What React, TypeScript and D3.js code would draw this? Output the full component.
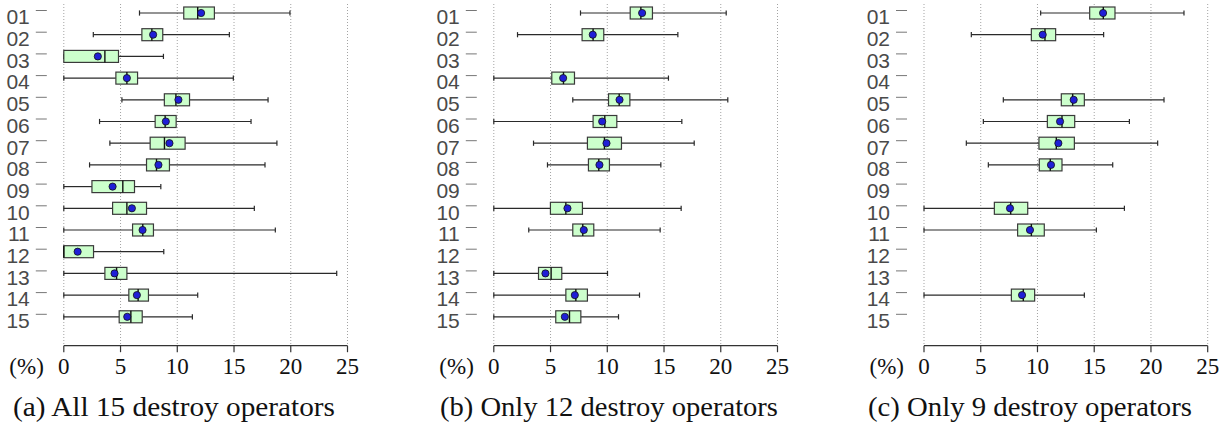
import React from "react";
import * as d3 from "d3";

// operator ids
const operators = ["01","02","03","04","05","06","07","08","09","10","11","12","13","14","15"];
const xTicks = [0, 5, 10, 15, 20, 25];

// [operator, whiskerLow, q1, median, q3, whiskerHigh, mean]
const statsAll: [string, number, number, number, number, number, number][] = [
  ["01", 6.67, 10.57, 11.8, 13.27, 19.93, 12.1],
  ["02", 2.6, 6.88, 7.76, 8.72, 14.59, 7.87],
  ["03", 0, 0, 3.62, 4.82, 8.78, 3.0],
  ["04", 0, 4.59, 5.56, 6.5, 14.94, 5.56],
  ["05", 5.12, 8.86, 9.88, 11.08, 18.0, 10.1],
  ["06", 3.15, 8.05, 8.93, 9.9, 16.5, 8.99],
  ["07", 4.06, 7.61, 8.87, 10.69, 18.78, 9.31],
  ["08", 2.27, 7.29, 8.17, 9.31, 17.73, 8.34],
  ["09", 0, 2.48, 5.2, 6.23, 8.55, 4.3],
  ["10", 0, 4.3, 5.56, 7.29, 16.79, 6.0],
  ["11", 0, 6.06, 6.96, 7.9, 18.64, 6.94],
  ["12", 0, 0, 0, 2.62, 8.81, 1.22],
  ["13", 0, 3.62, 4.65, 5.56, 24.05, 4.47],
  ["14", 0, 5.73, 6.55, 7.46, 11.8, 6.44],
  ["15", 0, 4.88, 5.91, 6.91, 11.33, 5.59],
];

const statsTwelve: [string, number, number, number, number, number, number][] = [
  ["01", 7.64, 12.02, 12.96, 13.98, 20.48, 13.07],
  ["02", 2.09, 7.78, 8.75, 9.69, 16.22, 8.72],
  ["04", 0, 5.11, 6.14, 7.11, 15.39, 6.11],
  ["05", 6.96, 10.11, 11.05, 11.99, 20.62, 11.08],
  ["06", 0, 8.75, 9.78, 10.84, 16.57, 9.55],
  ["07", 3.5, 8.25, 9.75, 11.25, 17.66, 9.93],
  ["08", 4.73, 8.34, 9.25, 10.19, 14.72, 9.31],
  ["10", 0, 4.99, 6.35, 7.81, 16.51, 6.49],
  ["11", 3.08, 6.96, 7.84, 8.81, 14.66, 7.93],
  ["13", 0, 3.94, 5.05, 5.99, 10.02, 4.55],
  ["14", 0, 6.35, 7.23, 8.25, 12.84, 7.14],
  ["15", 0, 5.46, 6.67, 7.67, 10.99, 6.26],
];

const statsNine: [string, number, number, number, number, number, number][] = [
  ["01", 10.28, 14.6, 15.8, 16.83, 22.91, 15.78],
  ["02", 4.17, 9.46, 10.66, 11.6, 15.83, 10.46],
  ["05", 6.99, 12.1, 13.1, 14.13, 21.15, 13.19],
  ["06", 5.23, 10.87, 12.16, 13.28, 18.1, 11.99],
  ["07", 3.73, 10.13, 11.66, 13.25, 20.59, 11.84],
  ["08", 5.67, 10.16, 11.13, 12.16, 16.63, 11.19],
  ["10", 0, 6.2, 7.64, 9.14, 17.66, 7.58],
  ["11", 0, 8.25, 9.46, 10.6, 15.19, 9.34],
  ["14", 0, 7.7, 8.75, 9.75, 14.13, 8.64],
];

const captions = [
  "(a) All 15 destroy operators",
  "(b) Only 12 destroy operators",
  "(c) Only 9 destroy operators",
];

const panels = [
  { stats: statsAll, x0: 63.8, captionX: 13, captionW: 322 },
  { stats: statsTwelve, x0: 493.8, captionX: 440, captionW: 338 },
  { stats: statsNine, x0: 924, captionX: 868, captionW: 324 },
];

const AXIS_Y = 345.7;
const ROW0 = 13;
const ROW_STEP = 21.7;
const SERIF = "'Liberation Serif', 'DejaVu Serif', serif";
const SANS = "'Liberation Sans', Arial, sans-serif";

function Panel({ stats, x0, captionX, captionW, caption }: any) {
  const x = d3.scaleLinear().domain([0, 25]).range([x0, x0 + 283.7]);
  const y = d3
    .scalePoint<string>()
    .domain(operators)
    .range([ROW0, ROW0 + ROW_STEP * (operators.length - 1)]);
  const bh = 6;
  const cap = 2.6;
  return (
    <g>
      {xTicks.map((t) => (
        <line
          key={"g" + t}
          x1={x(t)}
          x2={x(t)}
          y1={4}
          y2={AXIS_Y}
          stroke="#999"
          strokeWidth={0.9}
          strokeDasharray="1 2"
        />
      ))}
      {operators.map((o) => (
        <g key={"yl" + o}>
          <line
            x1={x0 - 28}
            x2={x0 - 17}
            y1={(y(o) as number) - 2.5}
            y2={(y(o) as number) - 2.5}
            stroke="#777"
            strokeWidth={1}
          />
          <text
            x={x0 - 34}
            y={(y(o) as number) + 4}
            dy="0.35em"
            textAnchor="end"
            fontFamily={SANS}
            fontSize={21}
            fill="#4a4a4a"
          >
            {o}
          </text>
        </g>
      ))}
      {stats.map((s: any) => {
        const [id, wl, q1, med, q3, wh, mean] = s;
        const cy = y(id) as number;
        return (
          <g key={"b" + id}>
            <line x1={x(wl)} x2={x(q1)} y1={cy} y2={cy} stroke="#2a2a2a" strokeWidth={1.2} />
            <line x1={x(q3)} x2={x(wh)} y1={cy} y2={cy} stroke="#2a2a2a" strokeWidth={1.2} />
            <line x1={x(wl)} x2={x(wl)} y1={cy - cap} y2={cy + cap} stroke="#2a2a2a" strokeWidth={1.2} />
            <line x1={x(wh)} x2={x(wh)} y1={cy - cap} y2={cy + cap} stroke="#2a2a2a" strokeWidth={1.2} />
            <rect
              x={x(q1)}
              y={cy - bh}
              width={x(q3) - x(q1)}
              height={bh * 2}
              fill="#ccffcc"
              stroke="#3a3a3a"
              strokeWidth={1.2}
            />
            <line x1={x(med)} x2={x(med)} y1={cy - bh} y2={cy + bh} stroke="#111" strokeWidth={1.4} />
            <circle cx={x(mean)} cy={cy} r={3.6} fill="#1f1fd6" stroke="#111" strokeWidth={0.8} />
          </g>
        );
      })}
      <line x1={x(0)} x2={x(25)} y1={AXIS_Y} y2={AXIS_Y} stroke="#333" strokeWidth={1.3} />
      {xTicks.map((t) => (
        <g key={"t" + t}>
          <line x1={x(t)} x2={x(t)} y1={AXIS_Y} y2={AXIS_Y + 6.5} stroke="#333" strokeWidth={1.2} />
          <text
            x={x(t)}
            y={374}
            textAnchor="middle"
            fontFamily={SERIF}
            fontSize={23}
            fill="#111"
          >
            {t}
          </text>
        </g>
      ))}
      <text x={x0 - 20} y={374} textAnchor="end" fontFamily={SERIF} fontSize={23} fill="#111">
        (%)
      </text>
      <text
        x={captionX}
        y={415.5}
        fontFamily={SERIF}
        fontSize={27}
        fill="#111"
        textLength={captionW}
        lengthAdjust="spacingAndGlyphs"
      >
        {caption}
      </text>
    </g>
  );
}

export default function App() {
  return (
    <svg
      width={1229}
      height={425}
      style={{ position: "absolute", left: 0, top: 0, background: "#fff" }}
    >
      <rect width={1229} height={425} fill="#fff" />
      {panels.map((p, i) => (
        <Panel key={i} {...p} caption={captions[i]} />
      ))}
    </svg>
  );
}
